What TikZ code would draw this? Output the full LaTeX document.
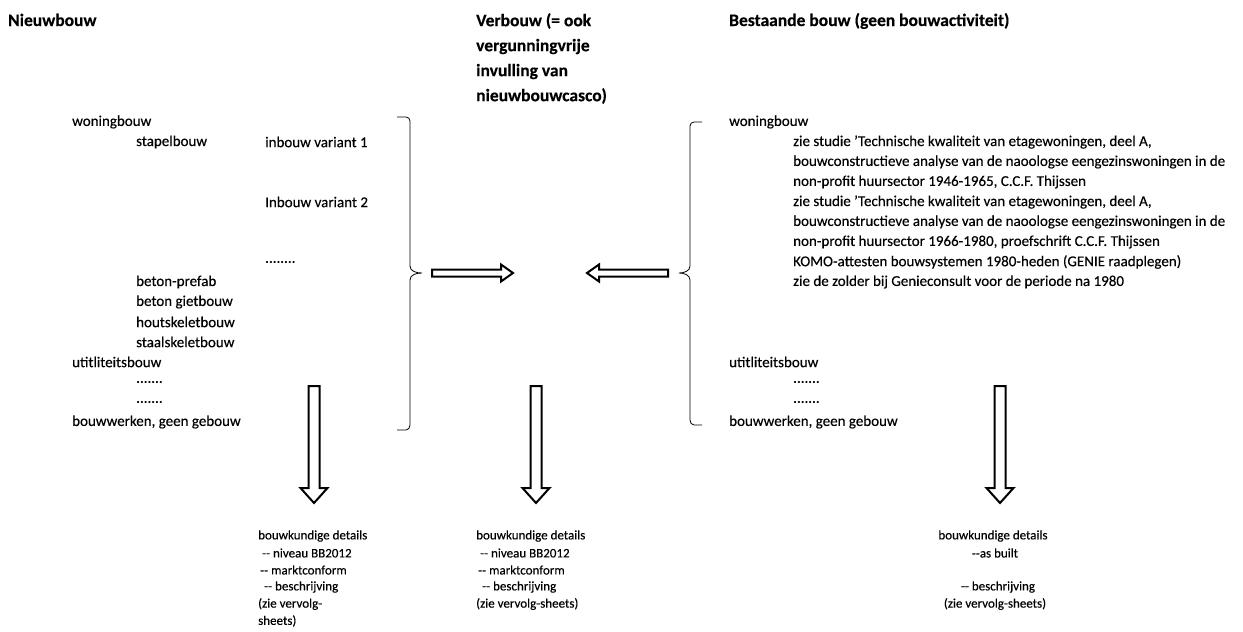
\documentclass[tikz,border=0pt]{standalone}
\usepackage{fontspec}
\setmainfont{Carlito}[FakeBold=0.3]
\begin{document}
\begin{tikzpicture}[x=1pt,y=-1pt,
  txt/.style={anchor=west,inner sep=0pt,font=\fontsize{15}{18}\selectfont},
  btxt/.style={anchor=west,inner sep=0pt,font=\fontsize{13}{16}\selectfont},
  ttl/.style={anchor=base west,inner sep=0pt,font=\fontsize{17.5}{25}\selectfont\bfseries},
  ttlb/.style={anchor=north west,inner sep=0pt,font=\fontsize{17.5}{25}\selectfont\bfseries,align=left},
  blk/.style={draw=black,line width=2pt,fill=white,line join=miter},
  brc/.style={draw=black,line width=0.8pt}]
\useasboundingbox (0,0) rectangle (1243,632);
% titles
\node[ttl] (t1) at (8,26) {Nieuwbouw};
\node[ttlb] (t2) at (476,13) {Verbouw (= ook\\vergunningvrije\\invulling van\\nieuwbouwcasco)};
\node[ttl] (t3) at (729,26) {Bestaande bouw (geen bouwactiviteit)};
% left list
\def\ry#1{122+20*#1}
\node[txt] (l0) at (72,{\ry{0}}) {woningbouw};
\node[txt] (l1) at (136,{\ry{1}}) {stapelbouw};
\node[txt] (v1) at (265,{\ry{1}}) {inbouw variant 1};
\node[txt] (v2) at (265,{\ry{4}}) {Inbouw variant 2};
\node[txt] (v3) at (265,{\ry{7}}) {........};
\node[txt] (l8) at (136,{\ry{8}}) {beton-prefab};
\node[txt] (l9) at (136,{\ry{9}}) {beton gietbouw};
\node[txt] (l10) at (136,{\ry{10}}) {houtskeletbouw};
\node[txt] (l11) at (136,{\ry{11}}) {staalskeletbouw};
\node[txt] (l12) at (72,{\ry{12}}) {utitliteitsbouw};
\node[txt] (l13) at (136,{\ry{13}}) {.......};
\node[txt] (l14) at (136,{\ry{14}}) {.......};
\node[txt] (l15) at (72,{\ry{15}}) {bouwwerken, geen gebouw};
% right list
\node[txt] (r0) at (729,{\ry{0}}) {woningbouw};
\node[txt] (r1) at (793,{\ry{1}}) {zie studie 'Technische kwaliteit van etagewoningen, deel A,};
\node[txt] (r2) at (793,{\ry{2}}) {bouwconstructieve analyse van de naoologse eengezinswoningen in de};
\node[txt] (r3) at (793,{\ry{3}}) {non-profit huursector 1946-1965, C.C.F. Thijssen};
\node[txt] (r4) at (793,{\ry{4}}) {zie studie 'Technische kwaliteit van etagewoningen, deel A,};
\node[txt] (r5) at (793,{\ry{5}}) {bouwconstructieve analyse van de naoologse eengezinswoningen in de};
\node[txt] (r6) at (793,{\ry{6}}) {non-profit huursector 1966-1980, proefschrift C.C.F. Thijssen};
\node[txt] (r7) at (793,{\ry{7}}) {KOMO-attesten bouwsystemen 1980-heden (GENIE raadplegen)};
\node[txt] (r8) at (793,{\ry{8}}) {zie de zolder bij Genieconsult voor de periode na 1980};
\node[txt] (r12) at (729,{\ry{12}}) {utitliteitsbouw};
\node[txt] (r13) at (793,{\ry{13}}) {.......};
\node[txt] (r14) at (793,{\ry{14}}) {.......};
\node[txt] (r15) at (729,{\ry{15}}) {bouwwerken, geen gebouw};
% braces
\coordinate (lbtip) at (422,273);
\coordinate (rbtip) at (679,273);
\draw[brc] (397,117) -- (406,117) to[out=0,in=90] (410,121) -- (410,266) to[out=-90,in=180] (lbtip) to[out=180,in=90] (410,280) -- (410,425) to[out=-90,in=0] (406,430) -- (397,430);
\draw[brc] (702,122) -- (694,122) to[out=180,in=90] (690,126) -- (690,266) to[out=-90,in=0] (rbtip) to[out=0,in=90] (690,280) -- (690,420) to[out=-90,in=180] (694,425) -- (702,425);
% horizontal block arrows
\draw[blk] (432,269.5) -- (501,269.5) -- (501,264.5) -- (513,273) -- (501,281.5) -- (501,276.5) -- (432,276.5) -- cycle;
\draw[blk] (668,269.5) -- (599,269.5) -- (599,264.5) -- (587,273) -- (599,281.5) -- (599,276.5) -- (668,276.5) -- cycle;
% vertical block arrows
\foreach \cx in {314,536,1000}{
  \draw[blk] ({\cx-5.5},386) -- ({\cx+5.5},386) -- ({\cx+5.5},488) -- ({\cx+13.5},488) -- (\cx,503) -- ({\cx-13.5},488) -- ({\cx-5.5},488) -- cycle;
}
% bottom texts
\def\by#1{536+17*#1}
\node[btxt] (a0) at (258,{\by{0}}) {bouwkundige details};
\node[btxt] (a1) at (262,{\by{1}}) {-{}- niveau BB2012};
\node[btxt] (a2) at (260,{\by{2}}) {-{}- marktconform};
\node[btxt] (a3) at (264,{\by{3}}) {-{}- beschrijving};
\node[btxt] (a4) at (258,{\by{4}}) {(zie vervolg-};
\node[btxt] (a5) at (258,{\by{5}}) {sheets)};
\node[btxt] (b0) at (476,{\by{0}}) {bouwkundige details};
\node[btxt] (b1) at (480,{\by{1}}) {-{}- niveau BB2012};
\node[btxt] (b2) at (478,{\by{2}}) {-{}- marktconform};
\node[btxt] (b3) at (482,{\by{3}}) {-{}- beschrijving};
\node[btxt] (b4) at (476,{\by{4}}) {(zie vervolg-sheets)};
\node[btxt,anchor=center] (c0) at (993,{\by{0}}) {bouwkundige details};
\node[btxt,anchor=center] (c1) at (995,{\by{1}}) {-{}-as built};
\node[btxt,anchor=center] (c3) at (998,{\by{3}}) {-{}- beschrijving};
\node[btxt,anchor=center] (c4) at (995,{\by{4}}) {(zie vervolg-sheets)};
\end{tikzpicture}
\end{document}
